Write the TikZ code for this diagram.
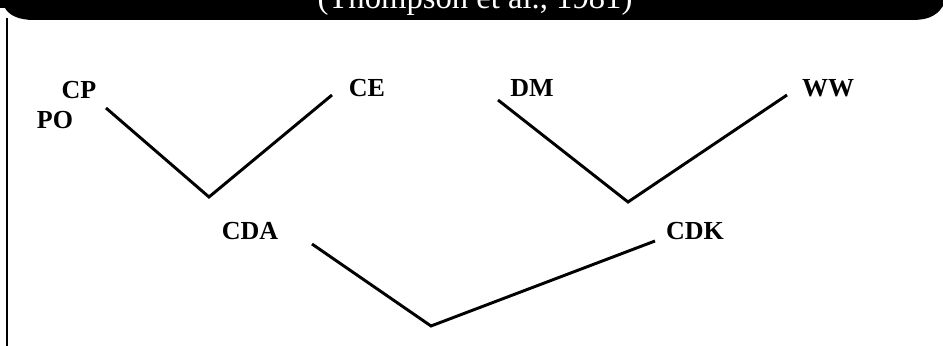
\documentclass[tikz,border=0pt]{standalone}
\usepackage{fontspec}
\setmainfont{Liberation Serif}

\tikzset{
  lbl/.style={font=\fontsize{19.5}{20}\selectfont\bfseries, inner sep=0pt},
  branch/.style={line width=2.2pt, line join=miter},
}

\begin{document}
\begin{tikzpicture}[x=0.75pt, y=-0.75pt]
\useasboundingbox (0,0) rectangle (943,346);

% Title Banner
\fill[black] (0,-30) -- (943,-30) -- (943,6) .. controls (936,17) and (926,20) .. (912,20)
  -- (34,20) .. controls (18,20) and (9,15) .. (5,8) -- (0,8) -- cycle;
\node[text=white, font=\fontsize{24.5}{25}\selectfont, anchor=base, inner sep=0pt] (title) at (475,9) {(Thompson et al., 1981)};

% Frame
\draw[line width=1.8pt] (7,18) -- (7,346);

% Labels
\node[lbl] (cp) at (79,90) {CP};
\node[lbl] (po) at (55,120) {PO};
\node[lbl] (ce) at (367,88) {CE};
\node[lbl] (dm) at (532,88) {DM};
\node[lbl] (ww) at (828,88) {WW};
\node[lbl] (cda) at (250,231) {CDA};
\node[lbl] (cdk) at (695,231) {CDK};

% Branch Points
\coordinate (cpEnd) at (106,108);
\coordinate (ceEnd) at (332,95);
\coordinate (cdaJoin) at (209,197);
\coordinate (dmEnd) at (498,100);
\coordinate (wwEnd) at (787,95);
\coordinate (cdkJoin) at (628,202);
\coordinate (cdaEnd) at (312,244);
\coordinate (cdkEnd) at (655,241);
\coordinate (rootJoin) at (431,326);

% Branches
\draw[branch] (cpEnd) -- (cdaJoin) -- (ceEnd);
\draw[branch] (dmEnd) -- (cdkJoin) -- (wwEnd);
\draw[branch] (cdaEnd) -- (rootJoin) -- (cdkEnd);

\end{tikzpicture}
\end{document}
